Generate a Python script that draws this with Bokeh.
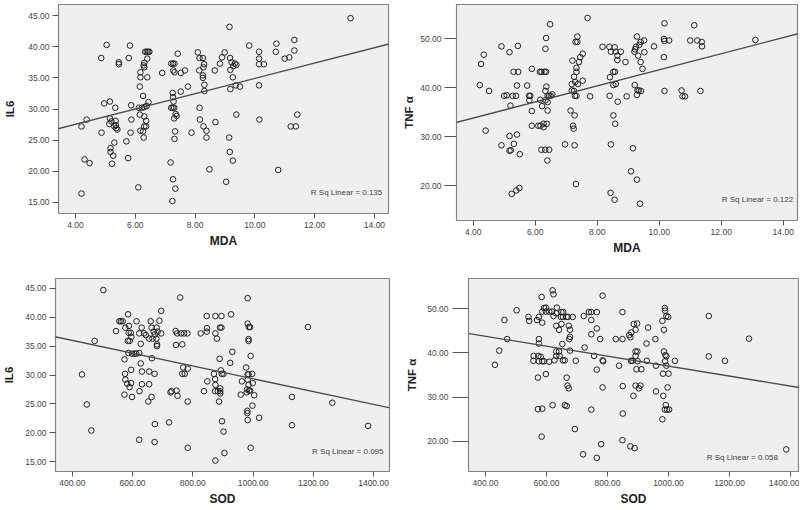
from bokeh.plotting import figure
from bokeh.layouts import column, row
from bokeh.models import Range1d, FixedTicker, NumeralTickFormatter, Slope, Label
from bokeh.embed import file_html
from bokeh.resources import INLINE

# ---------------- data ----------------
# Panel 1: MDA vs IL6
mda_a = [13.20, 9.15, 5.04, 5.82, 9.81, 10.72, 11.32, 4.86, 5.78, 5.45, 5.45, 6.33, 6.38, 6.43, 6.47,
         6.40, 6.30, 6.28, 6.30, 6.17, 6.17, 6.40, 6.15, 6.26, 6.90, 7.20, 7.26, 7.31, 7.27, 7.31,
         7.52, 7.66, 7.42, 8.09, 8.15, 8.26, 8.14, 8.30, 8.28, 8.26, 8.26, 8.31, 8.31, 8.66, 8.83,
         8.90, 8.99, 9.17, 9.22, 9.28, 9.33, 9.38, 9.18, 9.26, 9.36, 9.50, 9.18, 10.14, 10.14, 10.14,
         10.14, 10.30, 10.70, 11.00, 11.15, 11.32, 9.38, 10.15, 11.20, 11.37, 11.42, 10.78, 9.04, 9.14, 9.16,
         9.26, 8.15, 8.16, 8.28, 8.38, 8.38, 8.68, 8.48, 7.88, 7.76, 7.52, 7.25, 7.26, 7.28, 7.20,
         7.25, 7.30, 7.30, 7.38, 7.35, 7.33, 7.31, 7.18, 7.26, 7.34, 7.24, 6.10, 5.76, 5.70, 4.20,
         4.30, 4.47, 4.20, 4.37, 4.87, 4.96, 5.15, 5.15, 5.20, 5.13, 5.33, 5.34, 5.30, 5.36, 5.40,
         5.35, 5.30, 5.17, 5.17, 5.26, 5.22, 5.86, 5.87, 5.84, 6.12, 6.22, 6.30, 6.38, 6.44, 6.15,
         6.30, 6.36, 6.30, 6.36, 6.26, 6.28, 6.17]
il6_a = [44.6, 43.2, 40.3, 40.2, 40.2, 40.5, 41.1, 38.2, 38.2, 37.5, 37.2, 39.2, 39.2, 39.2, 39.2,
         38.1, 37.4, 37.0, 36.7, 35.9, 35.1, 35.1, 33.6, 32.1, 35.8, 37.3, 37.3, 37.3, 36.2, 35.9,
         35.8, 36.2, 38.9, 39.1, 38.2, 38.2, 36.2, 37.2, 36.7, 35.4, 35.0, 33.9, 32.9, 36.2, 37.3,
         38.3, 39.1, 38.2, 37.5, 36.9, 37.3, 37.1, 36.3, 35.1, 33.8, 33.6, 33.2, 39.2, 38.1, 37.2,
         33.8, 37.2, 39.2, 38.1, 38.3, 39.4, 29.1, 28.3, 27.2, 27.2, 29.1, 20.2, 18.3, 25.4, 23.1,
         21.7, 30.2, 28.3, 27.2, 26.5, 25.4, 27.9, 20.3, 26.2, 33.6, 32.8, 32.6, 31.9, 31.2, 30.2,
         30.2, 30.2, 28.5, 28.9, 29.2, 26.4, 25.2, 21.4, 18.7, 17.2, 15.2, 17.4, 22.1, 24.8, 16.4,
         21.9, 21.3, 27.2, 28.3, 26.2, 30.9, 31.2, 28.5, 28.0, 27.6, 30.2, 28.1, 27.2, 26.9, 26.7,
         27.4, 24.6, 23.7, 23.1, 22.5, 21.2, 30.6, 28.3, 26.2, 30.2, 30.2, 30.3, 30.5, 31.1, 29.1,
         28.8, 28.1, 27.2, 27.2, 26.4, 25.4, 26.5]

# Panel 2: MDA vs TNF alpha
mda_b = [7.69, 6.48, 10.17, 11.13, 6.35, 6.33, 7.36, 7.30, 7.36, 4.25, 4.34, 4.91, 5.17, 5.44, 4.21,
         4.51, 4.40, 4.91, 5.17, 5.21, 5.31, 5.41, 5.17, 5.50, 5.24, 5.39, 5.49, 5.00, 5.08, 5.27,
         5.38, 5.20, 5.30, 5.45, 5.41, 5.74, 5.80, 5.84, 5.81, 5.89, 5.89, 5.89, 6.15, 6.20, 6.30,
         6.35, 6.16, 6.22, 6.10, 6.17, 6.27, 6.27, 6.37, 6.20, 6.32, 6.45, 6.39, 6.33, 6.36, 6.40,
         6.45, 6.50, 6.55, 6.33, 6.40, 6.40, 6.96, 7.14, 7.18, 7.18, 7.20, 7.25, 7.29, 7.22, 7.24,
         7.27, 7.27, 7.25, 7.28, 7.33, 7.33, 7.33, 7.41, 7.45, 7.38, 7.53, 7.53, 7.31, 7.77, 8.17,
         8.39, 8.56, 8.44, 8.59, 8.76, 8.65, 8.65, 8.41, 8.52, 8.60, 8.52, 8.57, 8.40, 8.66, 8.52,
         8.58, 8.44, 8.95, 8.91, 8.43, 8.56, 9.09, 9.21, 9.20, 9.25, 9.36, 9.28, 9.40, 9.22, 9.32,
         9.40, 9.46, 9.52, 9.30, 9.34, 9.41, 9.28, 9.15, 9.28, 9.38, 9.51, 9.83, 10.15, 10.17, 10.32,
         10.15, 10.17, 10.72, 10.75, 10.83, 11.00, 11.23, 11.37, 11.38, 11.33, 13.10]
tnf_b = [54.2, 52.9, 53.1, 52.7, 50.1, 47.9, 50.4, 49.3, 49.3, 44.8, 46.7, 48.4, 47.2, 48.5, 40.5,
         39.3, 31.2, 28.2, 27.1, 27.2, 28.5, 30.4, 30.1, 26.4, 18.3, 19.0, 19.5, 38.3, 38.4, 38.3,
         38.3, 36.3, 43.2, 43.2, 40.4, 40.4, 38.3, 38.3, 37.4, 35.2, 43.8, 32.2, 43.2, 43.2, 43.2,
         43.2, 37.5, 36.2, 32.2, 32.2, 31.9, 32.6, 32.6, 27.3, 27.3, 27.3, 25.1, 39.3, 40.2, 38.3,
         38.3, 38.3, 38.6, 37.4, 37.0, 35.3, 28.4, 35.3, 40.7, 39.4, 45.5, 42.2, 41.1, 32.2, 31.6,
         34.3, 28.2, 39.3, 38.3, 38.3, 43.2, 44.0, 45.2, 46.2, 40.7, 46.9, 41.4, 20.3, 38.2, 48.3,
         48.3, 48.2, 47.3, 47.3, 47.3, 46.5, 45.6, 42.1, 40.5, 40.7, 43.2, 43.2, 38.3, 37.1, 34.3,
         32.6, 28.4, 38.2, 45.2, 18.5, 17.1, 22.9, 40.5, 47.3, 48.3, 48.7, 50.4, 49.3, 47.8, 46.5,
         45.2, 43.8, 47.2, 39.4, 39.4, 39.3, 38.5, 27.6, 21.2, 16.3, 49.6, 48.4, 49.9, 49.5, 49.6,
         46.2, 39.3, 39.4, 38.2, 38.2, 49.6, 49.6, 49.3, 48.4, 39.3, 49.7]

# Panel 3: SOD vs IL6
sod_c = [503, 432, 448, 463, 474, 545, 556, 561, 567, 585, 576, 588, 587, 594, 596,
         584, 590, 586, 598, 606, 612, 622, 573, 575, 576, 582, 590, 595, 595, 573,
         598, 613, 622, 630, 638, 644, 660, 663, 670, 674, 680, 683, 655, 666, 679,
         627, 681, 681, 627, 664, 631, 655, 673, 631, 655, 623, 652, 663, 622, 674,
         673, 689, 695, 695, 721, 726, 729, 746, 749, 743, 748, 761, 771, 782, 744,
         765, 758, 765, 773, 768, 783, 783, 783, 826, 847, 846, 846, 837, 848, 875,
         875, 880, 890, 895, 895, 870, 874, 875, 874, 883, 889, 893, 896, 902, 891,
         891, 891, 887, 897, 902, 905, 875, 927, 924, 931, 959, 963, 982, 982, 985,
         982, 982, 986, 990, 985, 985, 992, 997, 999, 985, 980, 987, 979, 990, 981,
         981, 982, 998, 1004, 992, 1020, 1129, 1129, 1182, 1263, 1382, 977]
il6_c = [44.7, 30.1, 24.9, 20.4, 35.9, 37.6, 39.3, 39.3, 39.3, 40.5, 38.2, 38.5, 37.3, 37.3, 36.6,
         35.9, 35.9, 33.8, 33.7, 33.7, 33.7, 33.8, 32.7, 30.2, 29.2, 28.5, 27.9, 30.9, 28.6, 26.6,
         26.2, 39.3, 37.2, 38.2, 37.2, 36.9, 39.3, 38.2, 37.5, 37.0, 38.2, 37.5, 36.3, 36.3, 36.3,
         35.4, 35.3, 35.0, 32.0, 32.9, 30.6, 30.6, 30.2, 28.4, 28.4, 27.2, 25.4, 26.2, 18.8, 21.5,
         18.4, 39.4, 41.1, 37.2, 21.8, 27.0, 27.2, 27.3, 26.4, 37.6, 37.2, 37.2, 37.2, 37.2, 35.2,
         35.3, 43.4, 30.2, 30.2, 31.3, 31.1, 25.4, 17.4, 37.2, 38.1, 37.5, 40.2, 27.2, 28.9, 40.2,
         37.2, 36.3, 38.2, 38.2, 40.2, 30.2, 29.3, 28.3, 27.2, 27.2, 32.8, 30.8, 30.2, 30.2, 27.7,
         27.2, 26.8, 25.4, 22.0, 20.2, 16.5, 15.2, 40.5, 32.1, 34.0, 26.6, 28.9, 30.1, 29.2, 30.1,
         43.3, 38.9, 38.3, 38.3, 36.2, 35.9, 33.3, 30.2, 28.6, 28.3, 27.5, 27.3, 27.0, 27.3, 23.8,
         23.4, 22.2, 24.7, 26.5, 17.4, 22.6, 26.2, 21.3, 38.3, 25.2, 21.2, 31.3]

# Panel 4: SOD vs TNF alpha
sod_d = [431, 445, 462, 471, 502, 541, 543, 569, 575, 584, 586, 586, 575, 575, 558,
         573, 581, 586, 557, 575, 592, 572, 598, 572, 586, 584, 592, 598, 609, 598,
         618, 620, 623, 623, 632, 634, 609, 620, 632, 641, 632, 632, 643, 626, 654,
         660, 641, 652, 649, 647, 654, 666, 671, 686, 649, 655, 673, 677, 677, 675,
         666, 669, 673, 660, 666, 677, 696, 693, 722, 739, 747, 765, 747, 765, 747,
         725, 776, 756, 765, 747, 720, 765, 779, 784, 786, 784, 784, 827, 838, 849,
         849, 850, 850, 849, 875, 871, 878, 892, 886, 897, 877, 882, 892, 892, 898,
         899, 895, 911, 885, 892, 903, 908, 875, 889, 929, 928, 933, 957, 959, 959,
         980, 985, 988, 989, 993, 999, 985, 990, 993, 989, 993, 982, 1000, 983, 991,
         995, 1002, 988, 980, 997, 1021, 1132, 1132, 1185, 1264, 1386]
tnf_d = [37.3, 40.5, 47.4, 43.1, 49.6, 48.1, 47.2, 47.4, 48.1, 52.6, 49.3, 46.8, 43.1, 42.1, 39.3,
         39.3, 39.1, 38.1, 38.2, 38.1, 38.1, 34.4, 35.2, 27.3, 27.4, 21.1, 50.1, 49.3, 49.3, 50.2,
         49.3, 54.1, 53.2, 48.3, 48.9, 50.2, 38.0, 28.2, 46.1, 45.2, 40.3, 39.3, 39.3, 38.3, 38.3,
         38.3, 40.3, 42.0, 46.5, 48.1, 48.1, 48.1, 48.1, 48.1, 49.2, 49.2, 46.1, 45.2, 43.6, 43.1,
         34.4, 32.6, 32.0, 28.2, 28.0, 40.5, 38.2, 22.8, 48.3, 49.2, 49.2, 49.2, 47.4, 45.5, 44.2,
         41.2, 43.1, 39.3, 36.2, 27.2, 17.1, 16.3, 19.4, 38.3, 38.1, 32.2, 52.9, 43.1, 37.1, 49.2,
         43.1, 32.5, 26.3, 20.3, 43.5, 44.0, 44.6, 45.2, 46.5, 46.6, 38.2, 38.2, 39.3, 40.3, 40.3,
         38.1, 36.3, 36.3, 30.3, 32.6, 32.0, 32.6, 18.9, 18.5, 38.2, 42.1, 45.7, 43.1, 37.1, 31.3,
         47.2, 45.2, 50.1, 49.5, 48.3, 48.1, 40.3, 39.5, 39.2, 38.1, 37.1, 35.3, 35.3, 30.3, 28.2,
         27.2, 27.2, 27.2, 25.0, 32.2, 38.2, 48.3, 39.2, 38.2, 43.2, 18.2]

# linear fits (intercept, slope) and R squared
fit_a = (22.63, 1.23)
fit_b = (27.2, 1.642)
fit_c = (40.41, -0.01107)
fit_d = (48.23, -0.01124)
rsq = ["0.135", "0.122", "0.095", "0.058"]

mda_ticks = [4, 6, 8, 10, 12, 14]
sod_ticks = [400, 600, 800, 1000, 1200, 1400]
il6_ticks = [15, 20, 25, 30, 35, 40, 45]
tnf_ticks = [20, 30, 40, 50]

FONT = "Liberation Sans"


def panel(x, y, fit, r2, xlabel, ylabel, xticks, yticks, xr, yr, w, h,
          bl, br, bt, bb, ytick_out, ylab_standoff, lab_pos, lab_align):
    p = figure(width=w, height=h, output_backend="svg", toolbar_location=None,
               x_range=Range1d(*xr), y_range=Range1d(*yr),
               min_border_left=bl, min_border_right=br, min_border_top=bt,
               min_border_bottom=bb)
    p.background_fill_color = "#efefef"
    p.border_fill_color = "white"
    p.outline_line_color = "#858585"
    p.outline_line_width = 1.2
    p.grid.visible = False

    p.scatter(x, y, marker="circle", size=5.6, fill_color=None,
              line_color="#222222", line_width=1)
    p.add_layout(Slope(gradient=fit[1], y_intercept=fit[0],
                       line_color="#4a4a4a", line_width=1.3))
    p.add_layout(Label(x=lab_pos[0], y=lab_pos[1], text="R Sq Linear = " + r2,
                       text_font=FONT, text_font_size="8px", text_color="#444444",
                       text_align=lab_align, text_baseline="middle"))

    xa = p.xaxis[0]
    xa.ticker = FixedTicker(ticks=xticks)
    xa.formatter = NumeralTickFormatter(format="0.00")
    xa.axis_label = xlabel
    ya = p.yaxis[0]
    ya.ticker = FixedTicker(ticks=yticks)
    ya.formatter = NumeralTickFormatter(format="0.00")
    ya.axis_label = ylabel
    for ax in (xa, ya):
        ax.axis_line_color = "#858585"
        ax.major_tick_line_color = "#555555"
        ax.minor_tick_line_color = None
        ax.major_tick_in = 0
        ax.major_label_text_font = FONT
        ax.major_label_text_font_size = "8.5px"
        ax.major_label_text_color = "#444444"
        ax.axis_label_text_font = FONT
        ax.axis_label_text_font_style = "bold"
        ax.axis_label_text_color = "#222222"
        ax.major_label_standoff = 3
    xa.major_tick_out = 5
    xa.axis_label_standoff = 3
    xa.axis_label_text_font_size = "12px"
    ya.major_tick_out = ytick_out
    ya.axis_label_standoff = ylab_standoff
    ya.axis_label_text_font_size = "11.5px"
    return p


p1 = panel(mda_a, il6_a, fit_a, rsq[0], "MDA", "IL6", mda_ticks, il6_ticks,
           (3.43, 14.47), (13.2, 46.8), 400, 263, 58, 12, 4, 50, 6, 9,
           (14.26, 16.65), "right")
p2 = panel(mda_b, tnf_b, fit_b, rsq[1], "MDA", "TNF α", mda_ticks, tnf_ticks,
           (3.46, 14.46), (12.86, 56.94), 399, 270, 53, 2, 4, 50, 12, 2,
           (14.32, 17.1), "right")
p3 = panel(sod_c, il6_c, fit_c, rsq[2], "SOD", "IL6", sod_ticks, il6_ticks,
           (344, 1453), (13.3, 46.7), 400, 239, 52, 11, 8, 38, 6, 7,
           (1433, 16.7), "right")
p4 = panel(sod_d, tnf_d, fit_d, rsq[3], "SOD", "TNF α", sod_ticks, tnf_ticks,
           (344.3, 1426.2), (13.23, 56.77), 399, 239, 68, 1, 8, 38, 16, 6,
           (1125, 16.4), "left")
p4.yaxis[0].major_label_standoff = 4

layout = column(row(p1, p2), row(p3, p4))

with open("out.html", "w") as f:
    f.write(file_html(layout, INLINE))
